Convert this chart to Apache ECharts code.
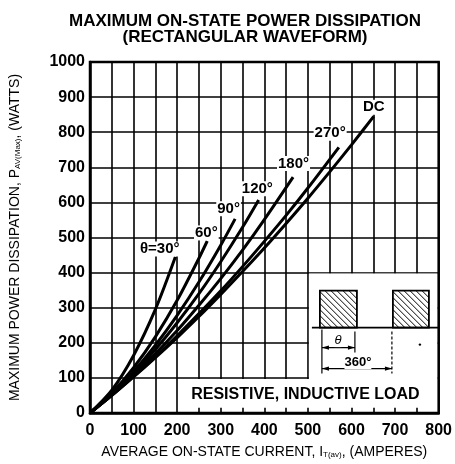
<!DOCTYPE html>
<html>
<head>
<meta charset="utf-8">
<script src="https://cdn.jsdelivr.net/npm/echarts@6/dist/echarts.min.js"></script>
<style>
html,body{margin:0;padding:0;background:#fff;}
#c{width:455px;height:464px;}
</style>
</head>
<body>
<div id="c"></div>
<script>
// Curve data: [average current A, power W]
const curve30  = [[0,0],[50,65],[100,164],[150,295],[196,445]];
const curve60  = [[0,0],[50,57],[100,129],[150,217],[200,321],[250,441],[269,490]];
const curve90  = [[0,0],[50,54],[100,118],[150,193],[200,278],[250,373],[300,478],[333,553]];
const curve120 = [[0,0],[50,53],[100,113],[150,181],[200,257],[250,340],[300,431],[350,529],[387,607]];
const curve180 = [[0,0],[50,51],[100,108],[150,169],[200,235],[250,307],[300,383],[350,464],[400,551],[466,672]];
const curve270 = [[0,0],[50,50],[100,104],[150,160],[200,220],[250,283],[300,348],[350,417],[400,489],[450,563],[500,641],[571,757]];
const curveDC  = [[0,0],[50,50],[100,103],[150,158],[200,215],[250,275],[300,338],[350,403],[400,470],[450,540],[500,612],[550,687],[600,764],[651,845]];

const seriesNames = ['30','60','90','120','180','270','DC'];
const seriesData = [curve30, curve60, curve90, curve120, curve180, curve270, curveDC];
// label anchor positions (data coords) and texts
const labelTexts = ['θ=30°','60°','90°','120°','180°','270°','DC'];
const labelPos = [[160,467],[267,513],[318,582],[384,639],[467,711],[551,797],[651,871]];

const xTicks = [0,100,200,300,400,500,600,700,800];
const yTicks = [0,100,200,300,400,500,600,700,800,900,1000];

const FONT = '"Liberation Sans", Arial, Helvetica, sans-serif';
const chart = echarts.init(document.getElementById('c'), null, {renderer:'canvas'});

const option = {
  backgroundColor: '#fff',
  animation: false,
  title: {
    text: 'MAXIMUM ON-STATE POWER DISSIPATION\n(RECTANGULAR WAVEFORM)',
    left: 240, top: 8, textAlign: 'center',
    textStyle: {fontFamily: FONT, fontWeight: 'bold', fontSize: 17, lineHeight: 16, color: '#000'}
  },
  grid: {left: 83, right: 12, top: 62, bottom: 51, show: false},
  xAxis: {
    type: 'value', min: 0, max: 800, interval: 50,
    name: 'AVERAGE ON-STATE CURRENT, I{s|T(av)}, (AMPERES)',
    nameLocation: 'middle', nameGap: 32,
    nameTextStyle: {fontFamily: FONT, fontSize: 14, color: '#000',
      rich: {s: {fontFamily: FONT, fontSize: 8, color: '#000', verticalAlign: 'bottom', padding: [6,0,0,0]}}},
    axisLine: {show: true, lineStyle: {color: '#000', width: 2.5}},
    axisTick: {show: false},
    axisLabel: {fontFamily: FONT, fontWeight: 'bold', fontSize: 16, color: '#000', margin: 10,
      formatter: v => (xTicks.indexOf(v) >= 0 ? String(v) : '')},
    splitLine: {show: true, lineStyle: {color: '#000', width: 1.6}}
  },
  yAxis: {
    type: 'value', min: 0, max: 1000, interval: 100,
    name: 'MAXIMUM POWER DISSIPATION, P{s|AV(Max)}, (WATTS)',
    nameLocation: 'middle', nameGap: 68, nameRotate: 90,
    nameTextStyle: {fontFamily: FONT, fontSize: 14, color: '#000',
      rich: {s: {fontFamily: FONT, fontSize: 8, color: '#000', verticalAlign: 'bottom', padding: [6,0,0,0]}}},
    axisLine: {show: true, lineStyle: {color: '#000', width: 2.5}},
    axisTick: {show: false},
    axisLabel: {fontFamily: FONT, fontWeight: 'bold', fontSize: 16, color: '#000', margin: 5,
      formatter: v => (yTicks.indexOf(v) >= 0 ? String(v) : '')},
    splitLine: {show: true, lineStyle: {color: '#000', width: 1.6}}
  },
  series: seriesData.map((d, i) => ({
    name: seriesNames[i], type: 'line', data: d, smooth: 0.3,
    showSymbol: false, symbol: 'none', z: 5,
    lineStyle: {color: '#000', width: 3}
  }))
};
chart.setOption(option);

// annotation graphics anchored to data coordinates
const P = (x, y) => chart.convertToPixel({gridIndex: 0}, [x, y]);
const g = [];
// frame top/right border
const tl = P(0, 1000), br = P(800, 0);
g.push({type:'rect', shape:{x:tl[0], y:tl[1], width:br[0]-tl[0], height:br[1]-tl[1]}, style:{fill:null, stroke:'#000', lineWidth:2.5}, z:20});

// upper inset box
const a = P(500, 400), b = P(800, 100);
g.push({type:'rect', shape:{x:a[0]+1, y:a[1]+1, width:b[0]-a[0]-2, height:b[1]-a[1]+2}, style:{fill:'#fff'}, z:10});
// lower text box
const c1 = P(207, 100), c2 = P(800, 15);
g.push({type:'rect', shape:{x:c1[0], y:c1[1]+1, width:c2[0]-c1[0]-1, height:c2[1]-c1[1]-1}, style:{fill:'#fff'}, z:10});
g.push({type:'text', x:(c1[0]+c2[0])/2 - 4, y:(c1[1]+c2[1])/2 + 2, style:{text:'RESISTIVE, INDUCTIVE LOAD', fontFamily:FONT, fontWeight:'bold', fontSize:16, fill:'#000', align:'center', verticalAlign:'middle'}, z:12});

// waveform sketch inside upper inset
const ox = a[0], oy = a[1] + 6;
function hatchRect(x0, y0, w, h) {
  g.push({type:'rect', shape:{x:x0, y:y0, width:w, height:h}, style:{fill:'#fff', stroke:'#000', lineWidth:1.8}, z:13});
  const step = 6;
  for (let k = step; k < w + h; k += step) {
    let p1x = x0 + k, p1y = y0 + h;
    let p2x = x0, p2y = y0 + h - k;
    if (p1x > x0 + w) { p1y = y0 + h - (p1x - (x0 + w)); p1x = x0 + w; }
    if (p2y < y0) { p2x = x0 + (y0 - p2y); p2y = y0; }
    g.push({type:'line', shape:{x1:p1x, y1:p1y, x2:p2x, y2:p2y}, style:{stroke:'#000', lineWidth:1}, z:14});
  }
}
hatchRect(ox + 12, oy + 12, 37, 37);
hatchRect(ox + 85, oy + 12, 36, 37);
g.push({type:'line', shape:{x1:ox+4, y1:oy+49, x2:ox+131, y2:oy+49}, style:{stroke:'#000', lineWidth:1.8}, z:14});
// dimension lines
g.push({type:'line', shape:{x1:ox+14, y1:oy+51, x2:ox+14, y2:oy+95}, style:{stroke:'#000', lineWidth:1.2}, z:14});
g.push({type:'line', shape:{x1:ox+47, y1:oy+53, x2:ox+47, y2:oy+74}, style:{stroke:'#000', lineWidth:1.2}, z:14});
g.push({type:'line', shape:{x1:ox+84, y1:oy+53, x2:ox+84, y2:oy+95}, style:{stroke:'#000', lineWidth:1.2, lineDash:[3,2]}, z:14});
function arrow(x1, x2, y) {
  g.push({type:'line', shape:{x1:x1, y1:y, x2:x2, y2:y}, style:{stroke:'#000', lineWidth:1.2}, z:14});
  g.push({type:'polygon', shape:{points:[[x1,y],[x1+7,y-2.2],[x1+7,y+2.2]]}, style:{fill:'#000'}, z:14});
  g.push({type:'polygon', shape:{points:[[x2,y],[x2-7,y-2.2],[x2-7,y+2.2]]}, style:{fill:'#000'}, z:14});
}
arrow(ox+14, ox+47, oy+69);
arrow(ox+14, ox+84, oy+90);
g.push({type:'text', x:ox+30, y:oy+62, style:{text:'θ', fontFamily:FONT, fontStyle:'italic', fontSize:13, fill:'#000', align:'center', verticalAlign:'middle', backgroundColor:'#fff'}, z:15});
g.push({type:'text', x:ox+50, y:oy+84, style:{text:'360°', fontFamily:FONT, fontWeight:'bold', fontSize:13, fill:'#000', align:'center', verticalAlign:'middle', backgroundColor:'#fff'}, z:15});
g.push({type:'circle', shape:{cx:ox+112, cy:oy+66, r:1.2}, style:{fill:'#000'}, z:14});

// curve labels
labelTexts.forEach((t, i) => {
  const q = P(labelPos[i][0], labelPos[i][1]);
  g.push({type:'text', x:q[0], y:q[1], style:{text:t, fontFamily:FONT, fontWeight:'bold', fontSize:15, fill:'#000', align:'center', verticalAlign:'middle', backgroundColor:'#fff', padding:[0,1]}, z:16});
});

chart.setOption({graphic: g});
</script>
</body>
</html>
